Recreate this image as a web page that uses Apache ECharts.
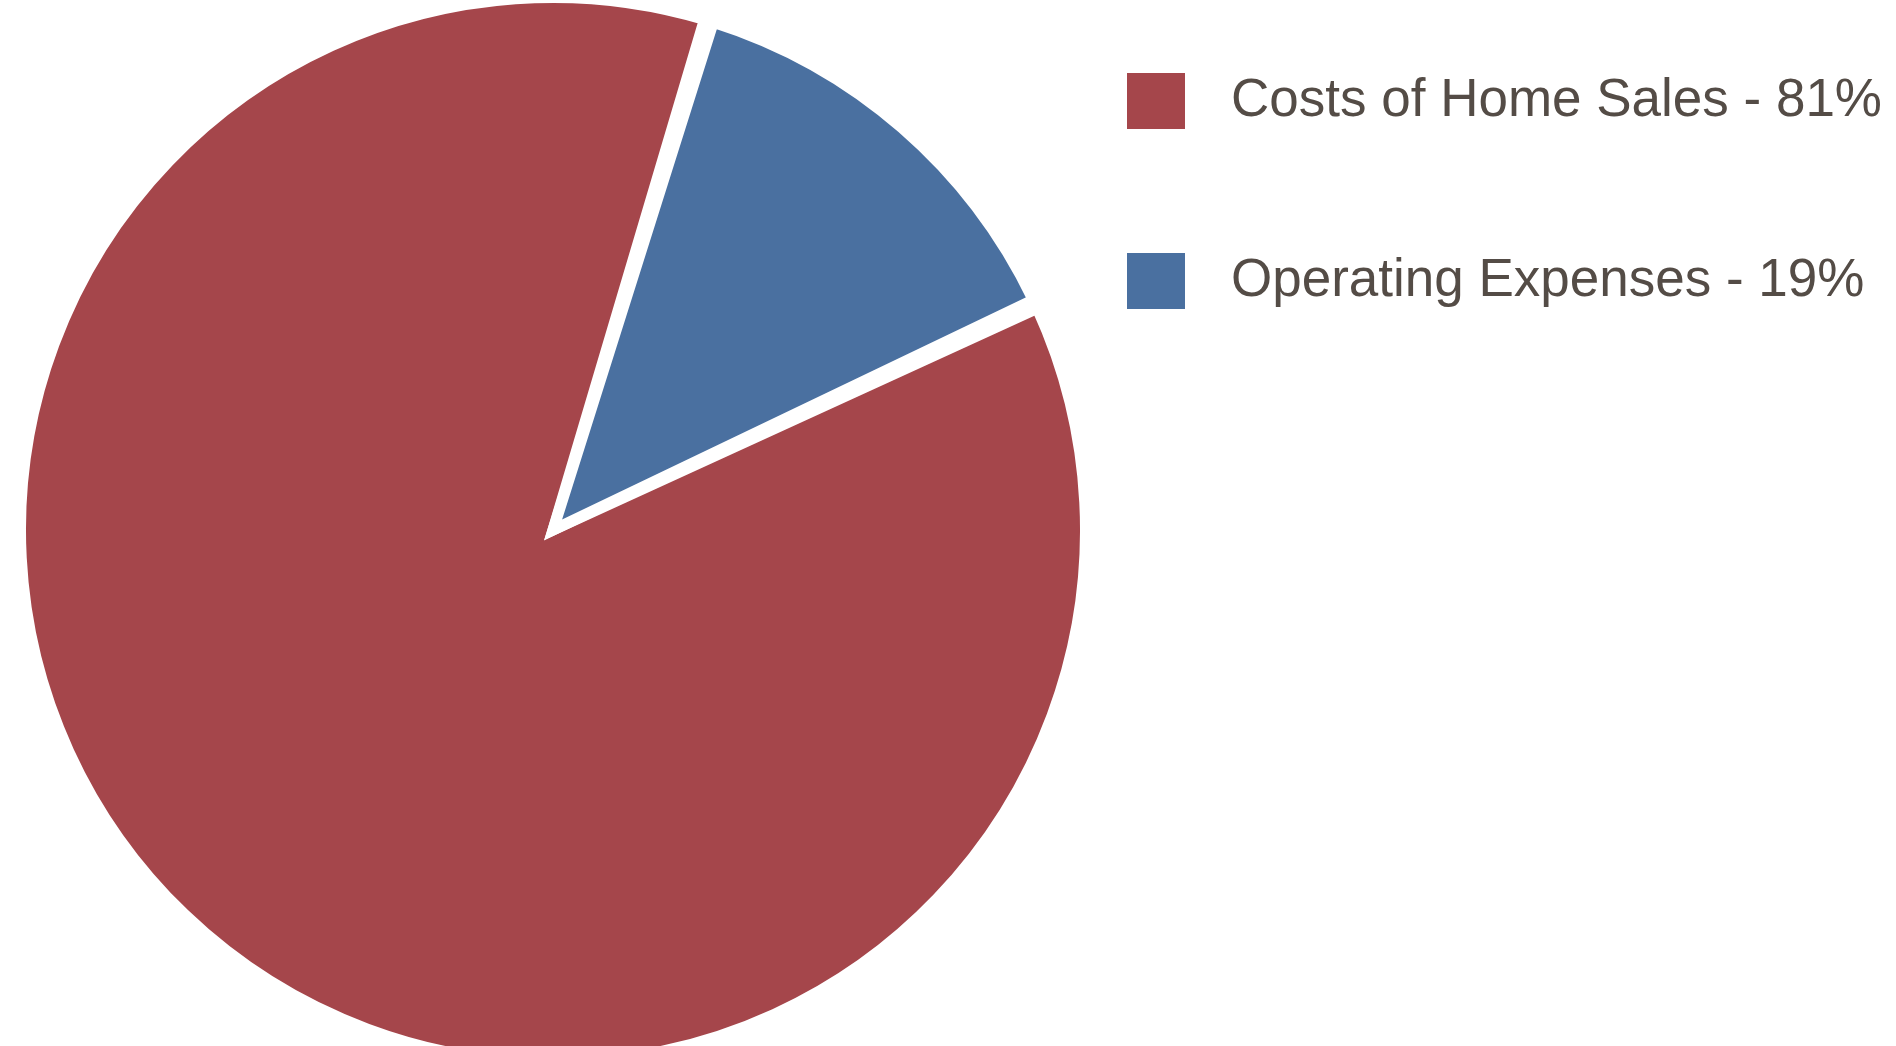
<!DOCTYPE html>
<html>
<head>
<meta charset="utf-8">
<style>
  html, body { margin: 0; padding: 0; background: #ffffff; }
  #chart { width: 1896px; height: 1046px; }
</style>
<script src="https://cdn.jsdelivr.net/npm/echarts@6/dist/echarts.min.js"></script>
</head>
<body>
<div id="chart"></div>
<script>
const categories = ["Costs of Home Sales", "Operating Expenses"];
const shareLabels = ["81%", "19%"];
const values = [86.7, 13.3];
const colors = ["#a5464b", "#4a70a0"];

const chart = echarts.init(document.getElementById('chart'), null, { renderer: 'canvas' });

const legendNames = categories.map((c, i) => c + ' - ' + shareLabels[i]);

chart.setOption({
  animation: false,
  backgroundColor: '#ffffff',
  color: colors,
  legend: {
    orient: 'vertical',
    left: 1120,
    top: 66,
    icon: 'rect',
    itemWidth: 60,
    itemHeight: 58,
    itemGap: 120,
    selectedMode: false,
    data: legendNames,
    textStyle: {
      fontFamily: 'Liberation Sans, Arial, sans-serif',
      fontSize: 53,
      lineHeight: 58,
      color: '#544c46',
      padding: [0, 0, 0, 40]
    }
  },
  series: [{
    type: 'pie',
    center: [553, 530],
    radius: 532.5,
    startAngle: 25.1,
    clockwise: true,
    padAngle: 1,
    avoidLabelOverlap: false,
    label: { show: false },
    labelLine: { show: false },
    emphasis: { disabled: true },
    itemStyle: {
      borderColor: '#ffffff',
      borderWidth: 11,
      borderJoin: 'miter',
      borderMiterLimit: 10
    },
    data: legendNames.map((n, i) => ({
      name: n,
      value: values[i],
      itemStyle: { color: colors[i] }
    }))
  }]
});
</script>
</body>
</html>
